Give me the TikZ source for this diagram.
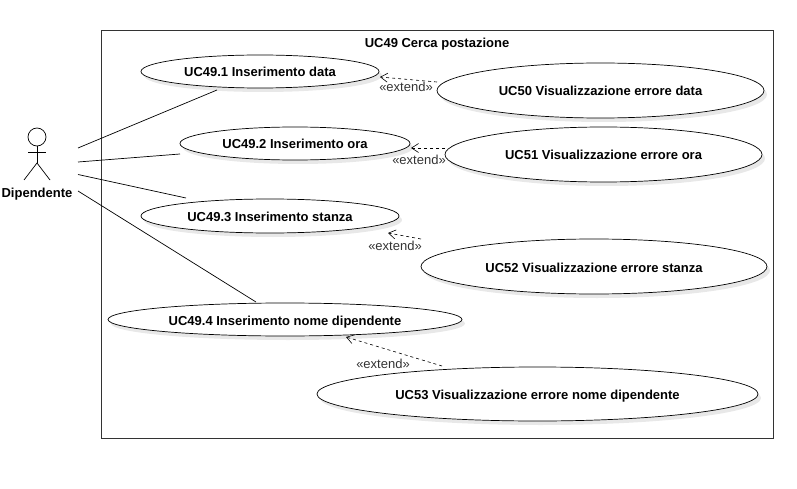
\documentclass[tikz,border=0pt]{standalone}
\usepackage{fontspec}
\setmainfont{Liberation Sans}
\usetikzlibrary{arrows.meta,shapes.geometric,shadows}
\tikzset{
  usecase/.style = {draw, ellipse, fill=white, inner sep=0pt, line width=0.7pt,
    drop shadow={shadow xshift=3pt, shadow yshift=-4pt, fill=black!9, opacity=1},
    font=\fontsize{13}{15}\selectfont\bfseries, text depth=0pt, text height=11pt},
  extendline/.style = {dash pattern=on 3pt off 3pt, line width=0.6pt, -{Straight Barb[length=7pt,width=9pt]}},
  extendlabel/.style = {font=\fontsize{13}{15}\selectfont, text=black!80},
  assoc/.style = {line width=0.7pt},
}
\begin{document}
\begin{tikzpicture}[x=1pt, y=-1pt]
    \useasboundingbox (0,0) rectangle (797,489);
    \node[draw, line width=1pt, black!80, minimum width=672pt, minimum height=407pt, inner sep=0pt] (system) at (437,234.5) {};
    \node[font=\fontsize{13}{15}\selectfont\bfseries] (title) at (437,44) {UC49 Cerca postazione};

    \node[usecase, minimum width=238pt, minimum height=33pt] (uc491) at (260,71.5) {UC49.1 Inserimento data};
    \node[usecase, minimum width=230pt, minimum height=33pt] (uc492) at (295,143.5) {UC49.2 Inserimento ora};
    \node[usecase, minimum width=258pt, minimum height=34pt] (uc493) at (270,216) {UC49.3 Inserimento stanza};
    \node[usecase, minimum width=354pt, minimum height=33pt] (uc494) at (285,319.5) {UC49.4 Inserimento nome dipendente};
    \node[usecase, minimum width=327pt, minimum height=55pt] (uc50) at (600.5,90.5) {UC50 Visualizzazione errore data};
    \node[usecase, minimum width=317pt, minimum height=55pt] (uc51) at (603.5,154.5) {UC51 Visualizzazione errore ora};
    \node[usecase, minimum width=346pt, minimum height=55pt] (uc52) at (594,266.5) {UC52 Visualizzazione errore stanza};
    \node[usecase, minimum width=441pt, minimum height=54pt] (uc53) at (537.5,394) {UC53 Visualizzazione errore nome dipendente};

    % actor
    \node[draw, circle, minimum size=18pt, inner sep=0pt, line width=0.7pt] (head) at (37,137) {};
    \coordinate (hip)      at (37,163);
    \coordinate (armleft)  at (28,152);
    \coordinate (armright) at (46,152);
    \coordinate (footleft) at (24,180);
    \coordinate (footright) at (50,180);
    \draw[assoc] (head) -- (hip);
    \draw[assoc] (armleft) -- (armright);
    \draw[assoc] (footleft) -- (hip) -- (footright);
    \node[font=\fontsize{13}{15}\selectfont\bfseries] (actor) at (37,194.5) {Dipendente};

    % associations
    \coordinate (from1) at (78,148);
    \coordinate (from2) at (78,162);
    \coordinate (from3) at (78,174.5);
    \coordinate (from4) at (78,191);
    \coordinate (to1)   at (217,90);
    \coordinate (to2)   at (180,154);
    \coordinate (to3)   at (186,198);
    \coordinate (to4)   at (256,302);
    \draw[assoc] (from1) -- (to1);
    \draw[assoc] (from2) -- (to2);
    \draw[assoc] (from3) -- (to3);
    \draw[assoc] (from4) -- (to4);

    % extends
    \coordinate (ext50a) at (437,82);
    \coordinate (ext50b) at (380,77);
    \coordinate (ext51a) at (445,148);
    \coordinate (ext51b) at (411,148);
    \coordinate (ext52a) at (421,239);
    \coordinate (ext52b) at (388,233);
    \coordinate (ext53a) at (442,366);
    \coordinate (ext53b) at (346,337);
    \draw[extendline] (ext50a) -- (ext50b);
    \draw[extendline] (ext51a) -- (ext51b);
    \draw[extendline] (ext52a) -- (ext52b);
    \draw[extendline] (ext53a) -- (ext53b);
    \node[extendlabel] (lab50) at (406,87) {«extend»};
    \node[extendlabel] (lab51) at (419,160) {«extend»};
    \node[extendlabel] (lab52) at (395,246) {«extend»};
    \node[extendlabel] (lab53) at (383,364) {«extend»};
\end{tikzpicture}
\end{document}
